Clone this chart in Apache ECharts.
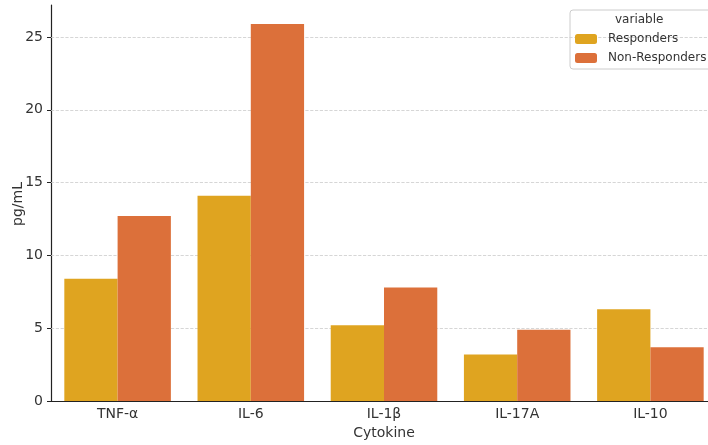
<!DOCTYPE html>
<html><head><meta charset="utf-8">
<script src="https://cdn.jsdelivr.net/npm/echarts@6/dist/echarts.min.js"></script>
<style>html,body{margin:0;padding:0;background:#fff}#c{width:708px;height:445px}</style>
</head><body><div id="c"></div>
<script>
var categories = ['TNF-α', 'IL-6', 'IL-1β', 'IL-17A', 'IL-10'];
var responders = [8.4, 14.1, 5.2, 3.2, 6.3];
var nonResponders = [12.7, 25.9, 7.8, 4.9, 3.7];
var yTicks = [0, 5, 10, 15, 20, 25];

var font = 'DejaVu Sans';
var chart = echarts.init(document.getElementById('c'));
chart.setOption({
  animation: false,
  textStyle: {fontFamily: font},
  grid: {left: 51, top: 5, width: 666, bottom: 44, containLabel: false, outerBoundsMode: 'none'},
  graphic: [{
    type: 'text', left: 615, top: 14,
    style: {text: 'variable', font: '12px "DejaVu Sans"', fill: '#333'}
  }, {
    type: 'text', x: 18, y: 204, rotation: Math.PI / 2,
    style: {text: 'pg/mL', font: '14px "DejaVu Sans"', fill: '#333', align: 'center', verticalAlign: 'middle'}
  }],
  legend: {
    orient: 'vertical', left: 570, top: 10,
    padding: [23, 20, 5, 5],
    borderColor: '#ccc', borderWidth: 1, borderRadius: 3,
    itemWidth: 22, itemHeight: 10, itemGap: 7,
    textStyle: {fontFamily: font, fontSize: 12, color: '#333', padding: [0, 0, 0, 6]},
    data: ['Responders', 'Non-Responders']
  },
  xAxis: {
    type: 'category', data: categories,
    name: 'Cytokine', nameLocation: 'middle', nameGap: 23,
    nameTextStyle: {fontFamily: font, fontSize: 14, color: '#333'},
    axisLine: {lineStyle: {color: '#222', width: 1.2}},
    axisTick: {alignWithLabel: true, length: 4, lineStyle: {color: '#222'}},
    axisLabel: {fontFamily: font, fontSize: 14, color: '#333', margin: 6},
    splitLine: {show: false}
  },
  yAxis: {
    type: 'value', min: 0, max: 27.2, interval: 5,
    axisLine: {show: true, lineStyle: {color: '#222', width: 1.2}},
    axisTick: {show: true, length: 4, lineStyle: {color: '#222'},
      customValues: yTicks},
    axisLabel: {fontFamily: font, fontSize: 14, color: '#333', margin: 8,
      customValues: yTicks},
    splitLine: {show: false}
  },
  series: [
    {name: 'Responders', type: 'bar', data: responders, barGap: '0%', barCategoryGap: '20%',
     itemStyle: {color: '#dfa420'}, z: 3,
     markLine: {silent: true, symbol: 'none', label: {show: false}, z: 1,
       lineStyle: {color: '#ccc', type: 'dashed', width: 0.8},
       data: yTicks.slice(1).map(function (v) { return {yAxis: v}; })}},
    {name: 'Non-Responders', type: 'bar', data: nonResponders, barGap: '0%', barCategoryGap: '20%',
     itemStyle: {color: '#dc703a'}, z: 3}
  ]
});
</script></body></html>
